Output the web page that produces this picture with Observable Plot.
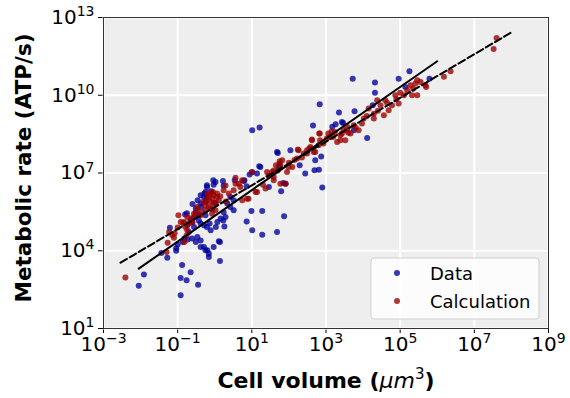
<!DOCTYPE html>
<html>
<head>
<meta charset="utf-8">
<script src="https://cdn.jsdelivr.net/npm/d3@7"></script>
<script src="https://cdn.jsdelivr.net/npm/@observablehq/plot@0.6"></script>
<style>
  html, body { margin: 0; padding: 0; background: #ffffff; }
  #chart { width: 570px; height: 398px; }
  svg { font-family: "DejaVu Sans", sans-serif; }
</style>
</head>
<body>
<div id="chart"></div>
<script>
// ---- Data (log10 of values) ----
const seriesNames = ["Data", "Calculation"];
const seriesColors = ["#00009c", "#9c0000"];

// Measured data: log10 cell volume (µm^3) and log10 metabolic rate (ATP/s)
const dataLogVolume = [
  -2.05,-1.91,-1.44,-1.28,-1.21,-0.92,-0.92,-0.76,-0.65,-0.88,-0.45,-1.04,-1.04,-1.00,-0.86,-0.73,-0.61,-0.47,-0.38,-0.29,
  -0.20,-0.16,-0.03,0.11,0.14,-0.82,-0.70,-0.74,-0.65,-0.56,-0.51,-0.37,-0.38,-0.25,-0.28,-0.21,-0.21,-0.04,-0.03,0.22,
  0.24,0.42,0.51,0.34,0.42,0.51,0.24,0.16,0.07,0.03,-0.11,-0.21,-0.29,-0.38,-0.43,-0.25,-0.51,-0.38,-0.25,-0.16,
  0.14,1.20,1.01,1.14,0.86,0.99,1.28,0.86,1.01,1.28,1.68,1.87,1.79,2.44,2.69,2.81,2.90,0.94,1.68,0.78,
  0.02,-0.21,-0.25,-0.38,-0.51,-0.43,-0.56,-0.61,-0.29,0.23,0.26,0.29,2.83,3.35,2.65,1.01,1.21,3.17,3.26,3.46,
  1.70,2.04,1.75,1.73,2.29,2.71,2.87,1.91,1.85,1.46,1.23,3.72,4.32,4.32,4.96,5.25,5.14,5.79,3.77,3.43,
  4.11,4.26,3.75,0.54,0.80,-0.80,-0.75,-0.14,-0.07,0.02,-0.10,-0.46,-0.60
];
const dataLogRate = [
  2.65,3.08,3.91,3.73,4.89,2.28,2.95,2.86,3.17,3.45,2.69,4.00,4.10,4.24,4.34,4.43,4.47,4.53,4.40,4.14,
  4.02,3.76,4.14,4.37,3.60,4.47,4.72,4.98,5.17,5.30,5.63,5.69,6.14,5.88,6.21,6.53,6.07,6.72,6.55,6.69,
  6.51,6.07,5.95,5.82,5.69,5.56,5.49,5.24,5.11,4.92,4.79,4.92,4.98,5.05,5.17,5.37,4.34,4.14,4.02,3.89,
  4.34,7.26,7.03,6.98,6.49,5.53,5.53,5.13,4.79,4.62,4.72,5.33,6.30,6.98,7.11,7.13,6.44,6.94,7.81,6.69,
  6.65,6.46,6.27,5.82,5.49,5.37,4.92,5.11,6.07,5.17,4.94,5.30,9.65,9.33,8.83,8.65,8.76,8.78,8.88,8.93,
  7.77,7.88,7.36,7.23,7.30,7.49,7.64,6.59,6.61,6.46,7.23,10.64,10.49,10.10,10.64,10.93,10.32,10.64,9.38,8.97,
  8.35,9.61,8.65,6.72,6.72,5.40,5.45,5.05,5.60,5.85,6.30,5.95,5.80
];

// Calculated values: log10 cell volume and log10 metabolic rate
const calcLogVolume = [
  -2.41,-0.98,-1.27,-1.23,-1.15,-1.08,-1.30,-0.85,-0.74,-0.79,-0.65,-0.56,-0.76,-0.82,-0.83,-0.47,-0.38,-0.11,-0.06,-0.03,
  -0.16,-0.21,0.02,0.06,-0.25,0.29,0.56,0.69,0.38,0.87,1.00,1.14,1.37,1.59,1.77,1.59,1.95,2.09,2.22,2.49,
  2.67,1.91,1.77,-0.05,0.06,0.11,0.02,-0.11,-0.16,-0.03,0.24,0.51,0.56,0.65,0.74,0.91,0.74,1.10,-0.74,-0.70,
  -0.92,-0.47,-0.34,-0.51,-0.11,-0.25,-0.07,1.59,1.55,1.82,1.99,2.26,2.40,2.49,2.58,2.62,2.71,2.80,2.84,2.93,
  3.02,3.06,3.19,3.24,3.39,3.43,3.57,3.30,2.83,1.41,3.39,3.48,3.57,3.75,3.66,3.88,3.97,4.02,4.15,4.29,
  4.29,4.38,4.47,4.56,4.60,4.69,4.78,4.87,4.96,5.10,5.19,5.28,5.32,5.46,5.41,5.55,5.68,3.52,5.46,5.70,
  6.18,6.36,7.52,7.60,-1.10,-1.00,-0.60,-0.30,-0.20,0.15,0.30,1.30,1.45,1.70,2.00,2.15,2.35,2.55,3.10,3.15,
  3.60,3.80,4.10,4.40,4.65,4.90,5.00,5.35,2.24,2.62,2.82,1.75,1.65
];
const calcLogRate = [
  2.97,5.37,4.31,4.72,4.61,4.68,3.95,5.07,4.79,4.92,5.24,5.43,4.59,4.34,5.11,5.56,5.37,6.21,6.01,5.82,
  5.69,5.95,5.56,6.21,5.56,6.52,6.82,6.46,6.21,6.01,7.04,6.27,6.40,6.85,7.30,7.10,7.04,7.23,7.56,7.75,
  7.81,6.59,6.59,6.27,6.07,5.95,5.82,5.88,6.07,6.14,6.33,6.33,6.59,6.59,6.72,6.01,5.95,6.27,5.30,5.05,
  5.11,5.69,5.49,5.37,5.63,5.75,5.43,6.72,7.04,7.49,7.23,7.88,7.75,7.88,8.00,8.26,7.81,8.07,8.26,8.14,
  8.33,8.52,8.39,8.58,8.26,8.52,8.65,8.20,8.52,7.04,8.46,8.65,8.78,8.84,8.52,8.65,8.91,9.10,9.49,9.29,
  9.10,9.81,9.61,9.23,9.81,9.42,9.61,10.00,9.68,10.00,10.19,10.39,10.00,10.00,10.45,10.51,10.39,8.26,10.58,10.32,
  10.71,10.93,11.78,12.21,4.50,4.90,5.10,5.90,6.20,6.10,5.90,6.55,6.90,7.10,7.40,7.50,7.60,7.95,8.40,8.60,
  8.55,8.75,9.20,9.40,9.70,9.85,10.10,10.25,7.91,8.29,8.52,7.45,7.30
];

// Power-law fit lines (endpoints, log10)
const dataFitLogVolume = [-2.05, 6.00];
const dataFitLogRate = [3.31, 11.31];
const calcFitLogVolume = [-2.54, 7.98];
const calcFitLogRate = [3.54, 12.41];

// Axis ticks
const xTicks = [1e-3, 1e-1, 1e1, 1e3, 1e5, 1e7, 1e9];
const yTicks = [1e1, 1e4, 1e7, 1e10, 1e13];

// ---- Build tables ----
const toRows = (lx, ly) => lx.map((v, i) => ({volume: Math.pow(10, v), rate: Math.pow(10, ly[i])}));
const dataRows = toRows(dataLogVolume, dataLogRate);
const calcRows = toRows(calcLogVolume, calcLogRate);
const dataFit = toRows(dataFitLogVolume, dataFitLogRate);
const calcFit = toRows(calcFitLogVolume, calcFitLogRate);

const fmt = d => "10^" + Math.round(Math.log10(d));

const plot = Plot.plot({
  width: 570,
  height: 398,
  marginLeft: 103,
  marginRight: 22,
  marginTop: 17,
  marginBottom: 70,
  style: {fontFamily: "DejaVu Sans, sans-serif", fontSize: "20px", color: "#000", background: "#fff"},
  x: {type: "log", domain: [1e-3, 1e9], ticks: xTicks, tickFormat: fmt, tickSize: 5, tickPadding: 3, label: null},
  y: {type: "log", domain: [1e1, 1e13], ticks: yTicks, tickFormat: fmt, tickSize: 5, tickPadding: 4, label: null},
  marks: [
    Plot.frame({fill: "#eeeeee", stroke: "none"}),
    Plot.ruleX(xTicks, {stroke: "#ffffff", strokeWidth: 2}),
    Plot.ruleY(yTicks, {stroke: "#ffffff", strokeWidth: 2}),
    Plot.dot(dataRows, {x: "volume", y: "rate", r: 3, fill: seriesColors[0], fillOpacity: 0.78, stroke: "none"}),
    Plot.dot(calcRows, {x: "volume", y: "rate", r: 3, fill: seriesColors[1], fillOpacity: 0.78, stroke: "none"}),
    Plot.line(dataFit, {x: "volume", y: "rate", stroke: "#000", strokeWidth: 2}),
    Plot.line(calcFit, {x: "volume", y: "rate", stroke: "#000", strokeWidth: 2, strokeDasharray: "7.4,3.2"}),
    Plot.frame({stroke: "#333", strokeWidth: 1})
  ]
});

document.getElementById("chart").appendChild(plot);
const svg = d3.select(plot);

// Superscript exponents in tick labels
svg.selectAll("text").each(function() {
  const t = d3.select(this);
  const m = /^10\^(-?\d+)$/.exec(t.text());
  if (!m) return;
  const exp = m[1].replace("-", "\u2212");
  t.text(null);
  t.append("tspan").text("10");
  t.append("tspan").attr("font-size", "14px").attr("dy", "-0.55em").text(exp);
});

// Axis titles
const xl = svg.append("text")
  .attr("x", 326).attr("y", 388)
  .attr("text-anchor", "middle")
  .attr("font-size", "22px").attr("font-weight", "bold").attr("fill", "#000");
xl.append("tspan").text("Cell volume (");
xl.append("tspan").attr("font-style", "italic").attr("font-weight", "normal").text("\u03bcm");
xl.append("tspan").attr("font-weight", "normal").attr("font-size", "15px").attr("dy", "-0.6em").text("3");
xl.append("tspan").attr("dy", "0.4em").text(")");

svg.append("text")
  .attr("transform", "translate(31,168) rotate(-90)")
  .attr("text-anchor", "middle")
  .attr("font-size", "21.5px").attr("font-weight", "bold").attr("fill", "#000")
  .text("Metabolic rate (ATP/s)");

// Legend
const lg = svg.append("g");
lg.append("rect").attr("x", 371).attr("y", 258).attr("width", 168).attr("height", 61)
  .attr("rx", 3).attr("fill", "#ffffff").attr("fill-opacity", 0.8).attr("stroke", "#d0d0d0");
seriesNames.forEach((name, i) => {
  const cy = 273 + i * 28;
  lg.append("circle").attr("cx", 397).attr("cy", cy).attr("r", 3)
    .attr("fill", seriesColors[i]).attr("fill-opacity", 0.78);
  lg.append("text").attr("x", 430).attr("y", cy + 6.5)
    .attr("text-anchor", "start")
    .attr("font-size", "18px").attr("fill", "#000").text(name);
});
</script>
</body>
</html>
